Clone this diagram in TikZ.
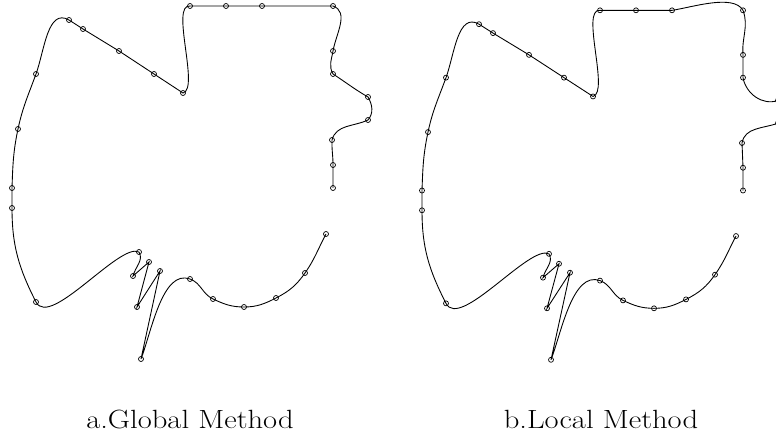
\documentclass[tikz,border=0pt]{standalone}
\usepackage{graphicx}
\usepackage{tikz}
\usetikzlibrary{positioning}
\tikzset{
  curva/.style={line width=0.5pt},
  marca/.style={line width=0.4pt},
  rotulo/.style={anchor=base, inner sep=0pt, font=\fontsize{15}{18}\selectfont}
}
\begin{document}
\begin{tikzpicture}[x=0.02cm, y=0.02cm]
    \useasboundingbox (0,0) rectangle (776,439);
    \clip (0,0) rectangle (776,439);
    % Puntos de control de cada curva (g = global, l = local)
        \foreach \c/\dx/\sy in {g/0/1, l/410/0.99} {
            \begin{scope}[shift={(\dx,0)}, yscale=\sy]
                \foreach \i/\x/\y in {1/326/205, 2/305/166, 3/276/141, 4/244/132,
                    5/213/140, 6/190/160, 7/141/80, 8/160/168, 9/137/132,
                    10/149/177, 11/133/163, 12/139/187, 13/36/137, 14/12/231,
                    15/12/251, 16/18/310, 17/36/365, 18/69/419, 19/83/410,
                    20/119/388, 21/154/365, 22/183/346, 23/190/433, 24/226/433,
                    25/262/433, 26/333/433, 27/333/388, 28/333/365, 29/368/342,
                    30/368/319, 31/332/299, 32/333/274, 33/333/251} {
                    \coordinate (\c\i) at (\x,\y);
                }
            \end{scope}
        }
        % Tramo comun de las dos curvas
        \foreach \c in {g,l} {
            \draw[curva] (\c1) to[out=242,in=55] (\c2) to[out=235,in=27] (\c3)
                to[out=207,in=0] (\c4) to[out=180,in=335] (\c5)
                to[out=155,in=340] (\c6) to[out=160,in=69,looseness=0.8] (\c7)
                -- (\c8) -- (\c9) -- (\c10) -- (\c11) to[out=76,in=300] (\c12)
                to[out=152,in=297,out looseness=0.48,in looseness=0.68] (\c13)
                to[out=117,in=270] (\c14) -- (\c15)
                to[out=88,in=258] (\c16) to[out=78,in=250] (\c17)
                to[out=70,in=150] (\c18) -- (\c19) -- (\c20) -- (\c21) -- (\c22)
                to[out=13,in=174,out looseness=0.51,in looseness=0.59] (\c23)
                -- (\c24) -- (\c25);
        }
        % Lado derecho, metodo global
        \draw[curva] (g25) -- (g26) to[out=340,in=80] (g27) to[out=260,in=120] (g28)
            to[out=327,in=150] (g29) to[out=300,in=50] (g30)
            to[out=205,in=75] (g31) to[out=268,in=90] (g32) -- (g33);
        % Lado derecho, metodo local
        \draw[curva] (l25) to[out=8,in=120,looseness=0.7] (l26) to[out=290,in=95] (l27)
            -- (l28) to[out=280,in=200] (l29) to[out=330,in=30] (l30)
            to[out=200,in=80] (l31) -- (l32) -- (l33);
        % Marcas sobre los puntos
        \foreach \c in {g,l} {
            \foreach \i in {1,...,33} {
                \draw[marca] (\c\i) circle (0.05cm);
            }
        }
        % Texto debajo de cada curva
        \node[rotulo] (global) at (190,11) {\scalebox{1.16}[1]{a.Global Method}};
        \node[rotulo] (local) at (601,11) {\scalebox{1.16}[1]{b.Local Method}};
    \end{tikzpicture}
\end{document}
